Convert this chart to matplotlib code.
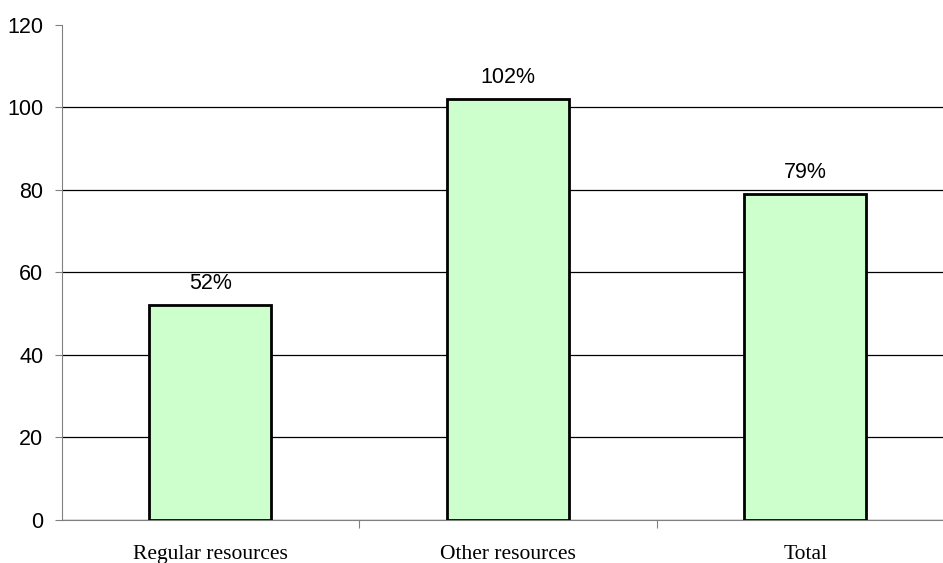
import matplotlib.pyplot as plt

# Resource utilisation by category (%)
categories = ['Regular resources', 'Other resources', 'Total']
values = [52, 102, 79]
labels = ['52%', '102%', '79%']

fig = plt.figure(figsize=(9.43, 5.63), dpi=100)
W, H = 943, 563
# axes box in pixels: left 61.5, right 954, top 24.7, bottom 520
ax = fig.add_axes([61.5 / W, (H - 520) / H, (954 - 61.5) / W, (520 - 24.7) / H])

x = range(len(categories))
bars = ax.bar(x, values, width=0.41, color='#CCFFCC', edgecolor='black', linewidth=2, zorder=3)

for b, lab in zip(bars, labels):
    ax.annotate(lab, (b.get_x() + b.get_width() / 2, b.get_height()),
                xytext=(0, 8), textcoords='offset points', ha='center', va='bottom',
                fontsize=15.5, family='Liberation Sans')

ax.set_xlim(-0.5, len(categories) - 0.5)
ax.set_ylim(0, 120)
ax.set_yticks(range(0, 121, 20))
ax.yaxis.grid(True, color='black', linewidth=0.9, zorder=0)
ax.set_axisbelow(True)
# no gridline along the top of the plot
ax.yaxis.get_gridlines()[-1].set_visible(False)

# category ticks sit between the groups, labels in the middle
ax.set_xticks([0.5, 1.5], minor=False)
ax.set_xticklabels([])
ax.set_xticks(list(x), minor=True)
ax.set_xticklabels(categories, minor=True, family='Liberation Serif', fontsize=15.5)
ax.tick_params(axis='x', which='minor', length=0, pad=18)
ax.tick_params(axis='x', which='major', length=6, color='#808080', direction='out')
ax.tick_params(axis='y', length=5, color='#808080', direction='out', pad=8,
               labelsize=15.5)
for t in ax.get_yticklabels():
    t.set_family('Liberation Sans')

for s in ['top', 'right']:
    ax.spines[s].set_visible(False)
ax.spines['left'].set_color('#808080')
ax.spines['bottom'].set_color('#808080')

plt.savefig('out.png', dpi=100)
